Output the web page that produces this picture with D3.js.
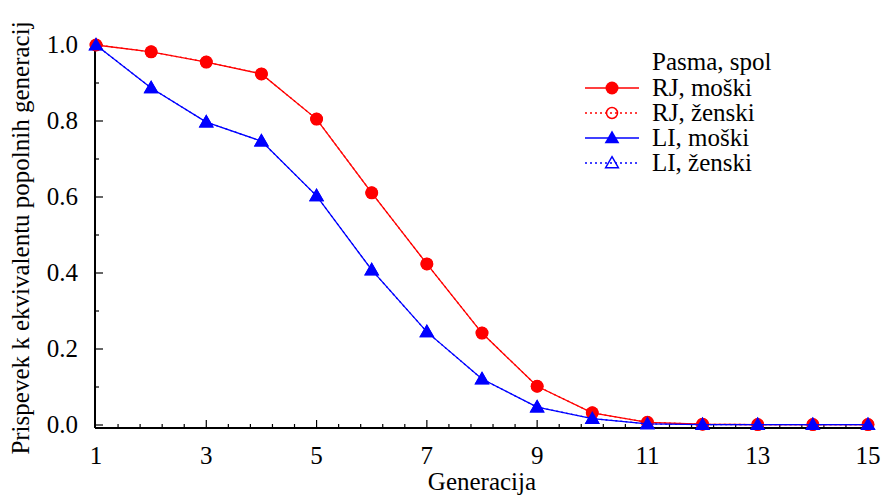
<!DOCTYPE html>
<html><head><meta charset="utf-8">
<script src="https://cdn.jsdelivr.net/npm/d3@7"></script>
<style>body{margin:0;background:#fff}svg{display:block}</style>
</head><body><svg id="c" width="885" height="497"></svg>
<script>
const generations = [1,2,3,4,5,6,7,8,9,10,11,12,13,14,15];
const rjMale   = [1.0,0.982,0.955,0.924,0.805,0.611,0.424,0.242,0.102,0.032,0.007,0.002,0.001,0.001,0.001];
const rjFemale = [1.0,0.982,0.955,0.924,0.805,0.611,0.424,0.242,0.102,0.032,0.007,0.002,0.001,0.001,0.001];
const liMale   = [1.0,0.887,0.797,0.747,0.603,0.408,0.245,0.121,0.047,0.017,0.003,0.001,0.001,0.001,0.001];
const liFemale = [1.0,0.887,0.797,0.747,0.603,0.408,0.245,0.121,0.047,0.017,0.003,0.001,0.001,0.001,0.001];
const xTicks = [1,3,5,7,9,11,13,15];
const yTicks = [0,0.2,0.4,0.6,0.8,1.0];
const legendTitle = "Pasma, spol";
const seriesNames = ["RJ, moški","RJ, ženski","LI, moški","LI, ženski"];

const FONT = "'Liberation Serif','Times New Roman',serif";
const FS = 25;
const svg = d3.select("#c").attr("font-family",FONT);
const x = d3.scaleLinear().domain([1,15]).range([96,868]);
const y = d3.scaleLinear().domain([0,1]).range([425,45]);
const axisY = 428;

const series = [
  {name:seriesNames[1], vals:rjFemale, color:"red", dash:"2,3", shape:"circle", fill:false},
  {name:seriesNames[3], vals:liFemale, color:"blue", dash:"2,3", shape:"tri", fill:false},
  {name:seriesNames[0], vals:rjMale, color:"red", dash:null, shape:"circle", fill:true},
  {name:seriesNames[2], vals:liMale, color:"blue", dash:null, shape:"tri", fill:true}
];
const triSym = d3.symbol().type(d3.symbolTriangle).size(95);
const line = d3.line().x((d,i)=>x(generations[i])).y(d=>y(d));

function marker(g, s, cx, cy){
  if(s.shape==="circle"){
    if(s.fill) g.append("circle").attr("cx",cx).attr("cy",cy).attr("r",6.5).attr("fill",s.color);
    else g.append("circle").attr("cx",cx).attr("cy",cy).attr("r",5.5).attr("fill","none").attr("stroke",s.color).attr("stroke-width",1.5);
  } else {
    if(s.fill) g.append("path").attr("d",triSym()).attr("transform",`translate(${cx},${cy+1})`).attr("fill",s.color);
    else g.append("path").attr("d",d3.symbol().type(d3.symbolTriangle).size(70)()).attr("transform",`translate(${cx},${cy+1})`).attr("fill","none").attr("stroke",s.color).attr("stroke-width",1.5);
  }
}

// axes
const ax = svg.append("g");
ax.append("line").attr("x1",95).attr("x2",870).attr("y1",axisY).attr("y2",axisY).attr("stroke","#000").attr("stroke-width",2);
ax.append("line").attr("x1",95).attr("x2",95).attr("y1",42).attr("y2",axisY).attr("stroke","#000").attr("stroke-width",2);
for(let i=1;i<=35;i++){
  const v = 1 + i*0.4;
  const major = Math.abs((v-1)/2 - Math.round((v-1)/2))<1e-6;
  ax.append("line").attr("x1",x(v)).attr("x2",x(v)).attr("y1",axisY).attr("y2",axisY-(major?8:4)).attr("stroke","#000").attr("stroke-width",1.2);
}
xTicks.forEach(v=>{
  ax.append("text").attr("x",x(v)).attr("y",464).attr("text-anchor","middle").attr("font-size",FS).text(v);
});
for(let i=0;i<=10;i++){
  const v=i/10; const major=i%2===0;
  ax.append("line").attr("x1",95).attr("x2",95+(major?8:4)).attr("y1",y(v)).attr("y2",y(v)).attr("stroke","#000").attr("stroke-width",1.2);
}
yTicks.forEach(v=>{
  ax.append("text").attr("x",78).attr("y",y(v)+8).attr("text-anchor","end").attr("font-size",FS).text(v.toFixed(1));
});
svg.append("text").attr("x",482).attr("y",490).attr("text-anchor","middle").attr("font-size",FS).text("Generacija");
svg.append("text").attr("transform","translate(29,238) rotate(-90)").attr("text-anchor","middle").attr("font-size",FS).text("Prispevek k ekvivalentu popolnih generacij");

// series
series.forEach(s=>{
  const g = svg.append("g");
  g.append("path").datum(s.vals).attr("d",line).attr("fill","none").attr("stroke",s.color).attr("stroke-width",1.3).attr("stroke-dasharray",s.dash);
  s.vals.forEach((v,i)=>marker(g,s,x(generations[i]),y(v)));
});

// legend
const lg = svg.append("g");
lg.append("text").attr("x",652).attr("y",70).attr("font-size",FS).text(legendTitle);
const order = [series[2],series[0],series[3],series[1]];
order.forEach((s,i)=>{
  const cy = 88 + i*25;
  lg.append("line").attr("x1",585).attr("x2",639).attr("y1",cy).attr("y2",cy).attr("stroke",s.color).attr("stroke-width",1.3).attr("stroke-dasharray",s.dash);
  marker(lg,s,612,cy);
  lg.append("text").attr("x",652).attr("y",cy+8).attr("font-size",FS).text(s.name);
});
</script></body></html>
